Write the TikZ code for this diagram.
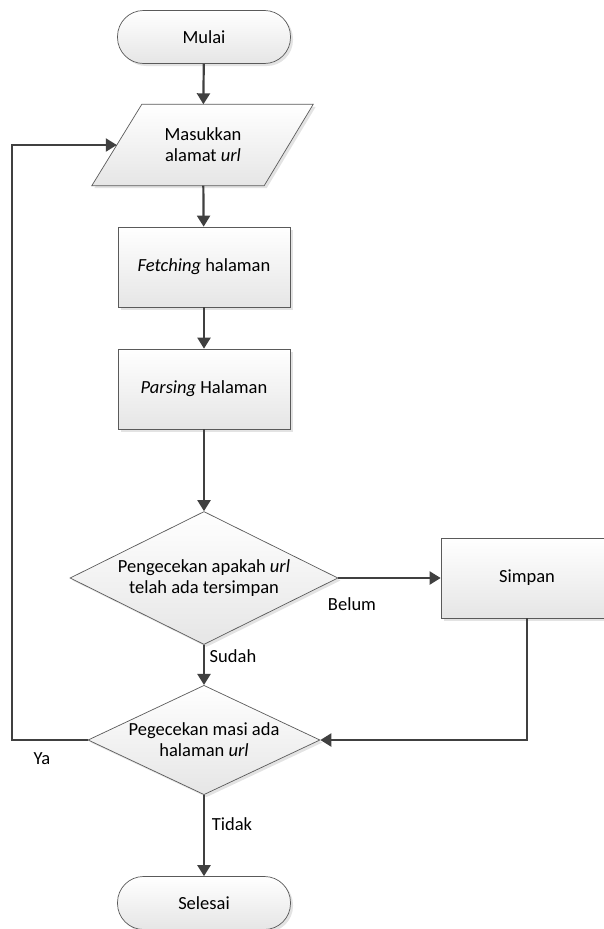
\documentclass[tikz,border=0pt]{standalone}
\usepackage{fontspec}
\setmainfont{Carlito}
\usetikzlibrary{arrows.meta,shadows,backgrounds,shapes.geometric}

\definecolor{edge}{HTML}{5A5A5A}
\definecolor{wire}{HTML}{404040}

\newcommand{\chartfont}{\fontsize{18.5}{21}\selectfont}

\tikzset{
  box/.style={draw=edge, line width=0.7pt, top color=white, bottom color=black!10,
    drop shadow={shadow xshift=2.5pt, shadow yshift=-2.5pt, fill=black!22},
    align=center, font=\chartfont},
  procbox/.style={box, rectangle, minimum width=172pt, minimum height=80pt},
  termbox/.style={box, rectangle, rounded corners=26pt, minimum width=173pt, minimum height=53pt},
  decbox/.style={box, diamond, inner sep=0pt, aspect=2},
  iobox/.style={rectangle, inner sep=0pt, minimum width=172pt, minimum height=81pt,
    align=center, font=\chartfont},
  flow/.style={draw=wire, line width=2.2pt, -{Triangle[length=11pt,width=13pt]}},
  lbl/.style={font=\chartfont, inner sep=0pt},
}

\begin{document}
\begin{tikzpicture}[x=1pt,y=-1pt]
  \useasboundingbox (0,0) rectangle (604,929);
  \clip (0,0) rectangle (604,929);

  % process steps
  \node[termbox] (mulai) at (204,37) {Mulai};
  \node[iobox] (in) at (203,145) {Masukkan\\alamat \textit{url}};
  \begin{pgfonlayer}{background}
    \path[box] ([xshift=25pt]in.north west) -- ([xshift=24pt]in.north east)
      -- ([xshift=-25pt]in.south east) -- ([xshift=-25pt]in.south west) -- cycle;
  \end{pgfonlayer}
  \node[procbox] (fetch) at (204,267) {\textit{Fetching} halaman};
  \node[procbox] (parse) at (204,389) {\textit{Parsing} Halaman};
  \node[decbox, minimum width=268pt, minimum height=133pt] (cek1) at (204,578)
    {Pengecekan apakah \textit{url}\\telah ada tersimpan};
  \node[procbox] (simpan) at (527,578) {Simpan};
  \node[decbox, minimum width=232pt, minimum height=109pt] (cek2) at (204,740)
    {Pegecekan masi ada\\halaman \textit{url}};
  \node[termbox] (selesai) at (204,903) {Selesai};

  \coordinate (loop) at (12,145);

  % connectors
  \draw[flow] (mulai) -- (in);
  \draw[flow] (in) -- (fetch);
  \draw[flow] (fetch) -- (parse);
  \draw[flow] (parse) -- (cek1);
  \draw[flow] (cek1.east) -- (simpan.west);
  \draw[flow] (cek1.south) -- (cek2.north);
  \draw[flow] (simpan.south) |- (cek2.east);
  \draw[flow] (cek2.west) -| (loop) -- (in.west);
  \draw[flow] (cek2.south) -- (selesai.north);

  % branch labels
  \node[lbl] (belum) at (352,604) {Belum};
  \node[lbl] (sudah) at (233,656) {Sudah};
  \node[lbl] (ya) at (42,759) {Ya};
  \node[lbl] (tidak) at (232,824) {Tidak};
\end{tikzpicture}
\end{document}
